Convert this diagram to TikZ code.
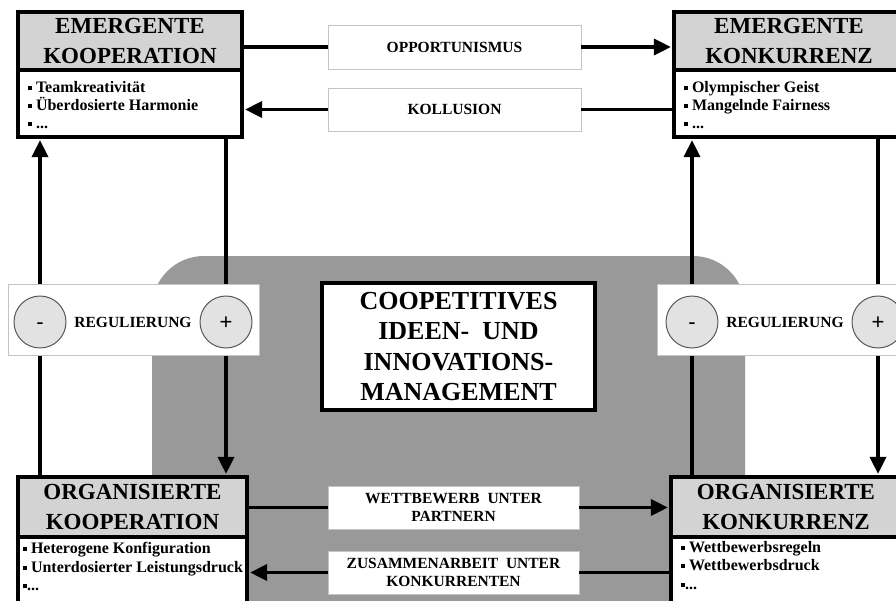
\documentclass[tikz,border=0pt]{standalone}
\usepackage{fontspec}
\setmainfont{Liberation Serif}
\newfontfamily\signfont{Liberation Sans}
\usetikzlibrary{arrows.meta}
\definecolor{headgray}{HTML}{D3D3D3}
\definecolor{backgray}{HTML}{999999}
\definecolor{signfill}{HTML}{E2E2E2}
\definecolor{labelrule}{HTML}{C4C4C4}
\newcommand\sqbullet{\rule[2pt]{3.8pt}{3.8pt}}

\begin{document}
\begin{tikzpicture}[x=1pt,y=-1pt,
  head/.style={draw, line width=3.2pt, fill=headgray, inner sep=0pt, align=center,
    font=\fontsize{23}{30}\selectfont\bfseries},
  bodybox/.style={draw, line width=3.2pt, fill=white, inner sep=0pt},
  item/.style={anchor=base west, inner sep=0pt, font=\fontsize{16}{18}\selectfont\bfseries},
  tag/.style={draw=labelrule, line width=0.8pt, fill=white, inner sep=0pt, align=center,
    font=\fontsize{15.5}{18.5}\selectfont\bfseries},
  conn/.style={line width=3.4pt},
  tip/.style={-{Triangle[length=17pt,width=16pt]}, shorten >=1.5pt},
  sign/.style={circle, draw=black!65, line width=1pt, fill=signfill, minimum size=52pt,
    inner sep=0pt, text height=14pt, text depth=0pt,
    font=\signfont\fontsize{22}{22}\selectfont},
  regbox/.style={draw=labelrule, line width=1pt, fill=white, inner sep=0pt},
  regtext/.style={inner sep=0pt, font=\fontsize{15.5}{18.5}\selectfont\bfseries},
  core/.style={draw, line width=3.2pt, fill=white, inner sep=0pt, align=center,
    font=\fontsize{26}{30.5}\selectfont\bfseries}]

\useasboundingbox (0,0) rectangle (896,600);
\clip (0,0) rectangle (896,600);

% backdrop of the central field
\fill[backgray, rounded corners=52pt] (152,256) rectangle (745,660);

% four corner boxes: header and list body
\node[head, minimum width=224pt, minimum height=58pt] (ekh) at (130,41) {EMERGENTE\\KOOPERATION};
\node[bodybox, minimum width=224pt, minimum height=67pt] (ekb) at (130,103.5) {};
\node[head, minimum width=230pt, minimum height=58pt] (ekkh) at (789,41) {EMERGENTE\\KONKURRENZ};
\node[bodybox, minimum width=230pt, minimum height=67pt] (ekkb) at (789,103.5) {};
\node[head, minimum width=229pt, minimum height=60pt] (okh) at (132.5,507) {ORGANISIERTE\\KOOPERATION};
\node[bodybox, minimum width=229pt, minimum height=103pt] (okb) at (132.5,588.5) {};
\node[head, minimum width=230pt, minimum height=60pt] (okkh) at (786,507) {ORGANISIERTE\\KONKURRENZ};
\node[bodybox, minimum width=230pt, minimum height=103pt] (okkb) at (786,588.5) {};

% list entries
\node[item] (ek1) at (28,92) {\sqbullet\ Teamkreativität};
\node[item] (ek2) at (28,110) {\sqbullet\ Überdosierte Harmonie};
\node[item] (ek3) at (28,128) {\sqbullet\ ...};
\node[item] (ekk1) at (684,92) {\sqbullet\ Olympischer Geist};
\node[item] (ekk2) at (684,110) {\sqbullet\ Mangelnde Fairness};
\node[item] (ekk3) at (684,128) {\sqbullet\ ...};
\node[item] (ok1) at (23,553) {\sqbullet\ Heterogene Konfiguration};
\node[item] (ok2) at (23,572) {\sqbullet\ Unterdosierter Leistungsdruck};
\node[item] (ok3) at (23,590) {\sqbullet...};
\node[item] (okk1) at (681,552) {\sqbullet\ Wettbewerbsregeln};
\node[item] (okk2) at (681,570) {\sqbullet\ Wettbewerbsdruck};
\node[item] (okk3) at (681,589) {\sqbullet...};

% central box
\node[core, minimum width=273pt, minimum height=127pt] (core) at (458.5,346.5)
  {COOPETITIVES\\IDEEN-\ \ UND\\INNOVATIONS-\\MANAGEMENT};

% transition labels
\node[tag, minimum width=253pt, minimum height=44pt] (opp) at (454.5,47) {OPPORTUNISMUS};
\node[tag, minimum width=253pt, minimum height=43pt] (kol) at (454.5,109.5) {KOLLUSION};
\node[tag, minimum width=251pt, minimum height=43pt] (wett) at (453.5,507.5) {WETTBEWERB\ \ UNTER\\PARTNERN};
\node[tag, minimum width=251pt, minimum height=43pt] (zus) at (453.5,572.5) {ZUSAMMENARBEIT\ \ UNTER\\KONKURRENTEN};

% horizontal connectors
\draw[conn] (opp.west) -- (opp.west -| ekh.east);
\draw[conn,tip] (opp.east) -- (opp.east -| ekkh.west);
\draw[conn,tip] (kol.west) -- (kol.west -| ekb.east);
\draw[conn] (kol.east) -- (kol.east -| ekkb.west);
\draw[conn] (wett.west) -- (wett.west -| okh.east);
\draw[conn,tip] (wett.east) -- (wett.east -| okkh.west);
\draw[conn,tip] (zus.west) -- (zus.west -| okb.east);
\draw[conn] (zus.east) -- (zus.east -| okkb.west);

% vertical connectors
\coordinate (vL1) at (40,0);
\coordinate (vL2) at (226,0);
\coordinate (vR1) at (692,0);
\coordinate (vR2) at (878,0);
\draw[conn,tip] (vL1 |- okh.north) -- (vL1 |- ekb.south);
\draw[conn,tip] (vL2 |- ekb.south) -- (vL2 |- okh.north);
\draw[conn,tip] (vR1 |- okkh.north) -- (vR1 |- ekkb.south);
\draw[conn,tip] (vR2 |- ekkb.south) -- (vR2 |- okkh.north);

% regulation bars
\node[regbox, minimum width=251pt, minimum height=71pt] (regL) at (133.5,319.5) {};
\node[sign] (minusL) at (40,322) {-};
\node[sign] (plusL) at (226,322) {+};
\node[regtext] (regtxtL) at (133,322) {REGULIERUNG};
\node[regbox, minimum width=251pt, minimum height=71pt] (regR) at (782.5,319.5) {};
\node[sign] (minusR) at (692,322) {-};
\node[sign] (plusR) at (878,322) {+};
\node[regtext] (regtxtR) at (785,322) {REGULIERUNG};
\end{tikzpicture}
\end{document}
